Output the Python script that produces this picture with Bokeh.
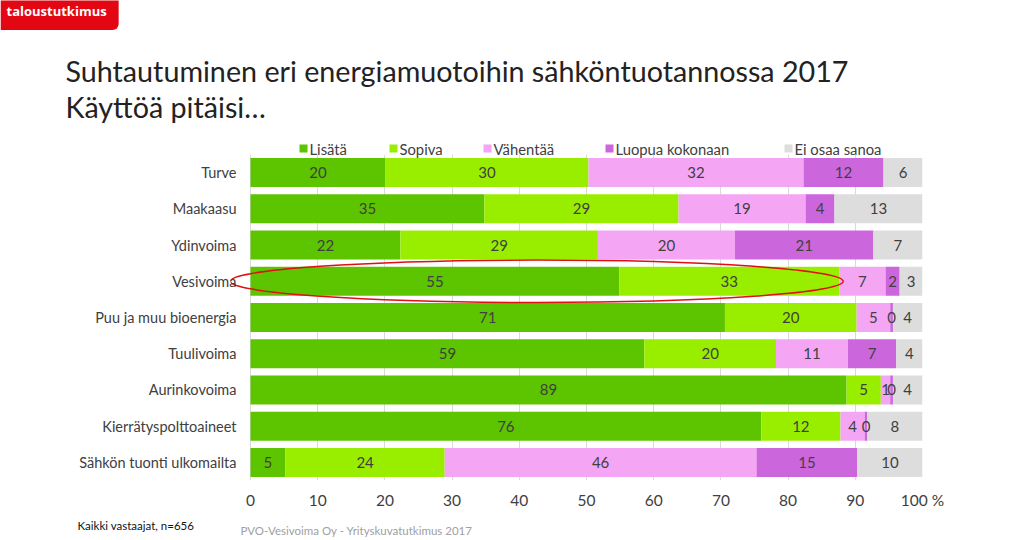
from bokeh.plotting import figure
from bokeh.layouts import column
from bokeh.models import (ColumnDataSource, FactorRange, Range1d, Label, FixedTicker)
from bokeh.core.properties import value
from bokeh.embed import file_html
from bokeh.resources import INLINE

categories = ["Turve", "Maakaasu", "Ydinvoima", "Vesivoima", "Puu ja muu bioenergia",
              "Tuulivoima", "Aurinkovoima", "Kierrätyspolttoaineet", "Sähkön tuonti ulkomailta"]
series = ["Lisätä", "Sopiva", "Vähentää", "Luopua kokonaan", "Ei osaa sanoa"]
lisata   = [20.1, 34.8, 22.3, 54.9, 70.6, 58.6, 88.7, 76.0, 5.2]
sopiva   = [30.2, 28.9, 29.4, 32.7, 19.6, 19.6, 5.1, 11.8, 23.7]
vahentaa = [32.0, 18.9, 20.4, 6.9, 5.0, 10.7, 1.4, 3.6, 46.4]
luopua   = [11.9, 4.3, 20.6, 2.1, 0.4, 7.2, 0.4, 0.4, 15.0]
ei_osaa  = [5.8, 13.1, 7.3, 3.4, 4.4, 3.9, 4.4, 8.2, 9.7]
colors = ["#5DC400", "#99EE00", "#F4A6F4", "#CC66DD", "#DDDDDD"]
x_ticks = [0, 10, 20, 30, 40, 50, 60, 70, 80, 90, 100]
highlight = "Vesivoima"
title_lines = ["Suhtautuminen eri energiamuotoihin sähköntuotannossa 2017", "Käyttöä pitäisi…"]
note_left = "Kaikki vastaajat, n=656"
note_source = "PVO-Vesivoima Oy - Yrityskuvatutkimus 2017"
logo_text = "taloustutkimus"

FONT = "Lato"
W = 1020
TOP_H = 164
OVERLAP = 10          # header canvas reaches 10px under the chart canvas
BL, BR, BB = 230, W - 922, 34
FRAME_H = 326
BOT_H = 24
px_per = 6.72
x_start = -(250 - BL) / px_per
legend_x = [299, 389, 483, 605, 784]   # left edge of each legend swatch (header pixels)
legend_y = 148


def blank(h, **kw):
    f = figure(width=W, height=h, x_range=Range1d(0, W), y_range=Range1d(h, 0),
               output_backend="svg", toolbar_location=None, x_axis_location=None,
               y_axis_location=None, min_border=0, frame_align=False, **kw)
    f.outline_line_color = None
    f.grid.visible = False
    return f


# ---------- header: logo, title, legend ----------
top = blank(TOP_H, margin=(0, 0, -OVERLAP, 0))
top.add_layout(Label(x=0, y=13, text=logo_text, text_font="Open Sans", text_font_size="13px",
                     text_font_style="bold", text_color="white", text_baseline="middle",
                     background_fill_color="#E30613", padding=(6, 12, 5, 10),
                     border_radius=(0, 0, 6, 0)))
top.text(x=[65, 65], y=[70, 106], text=title_lines, text_font=value(FONT),
         text_font_size="28.7px", text_color="#222222", text_baseline="middle")

top.rect(x=[lx + 4 for lx in legend_x], y=[legend_y] * len(series), width=8, height=8,
         fill_color=colors, line_color=None)
top.text(x=[lx + 10 for lx in legend_x], y=[legend_y] * len(series), text=series,
         text_font=value(FONT), text_font_size="14.8px", text_color="#404040",
         text_baseline="middle")

# ---------- main chart ----------
p = figure(width=W, height=FRAME_H + BB, y_range=FactorRange(*categories[::-1]),
           x_range=Range1d(x_start, 100), output_backend="svg", toolbar_location=None,
           min_border_left=BL, min_border_right=BR, min_border_top=0,
           min_border_bottom=BB, frame_align=False)
p.outline_line_color = None
p.background_fill_alpha = 0
p.border_fill_alpha = 0

all_vals = [lisata, sopiva, vahentaa, luopua, ei_osaa]
left = [0.0] * len(categories)
lx_, ly_, lt_ = [], [], []
for vals, col in zip(all_vals, colors):
    right = [a + b for a, b in zip(left, vals)]
    src = ColumnDataSource(dict(y=categories, left=left, right=right))
    p.hbar(y="y", left="left", right="right", height=0.8, source=src,
           fill_color=col, line_color=None)
    for c, a, v in zip(categories, left, vals):
        lx_.append(a + v / 2)
        ly_.append(c)
        lt_.append(f"{v:.0f}")
    left = right

p.text(x=lx_, y=ly_, text=lt_, text_align="center", text_baseline="middle",
       text_font=value(FONT), text_font_size="15px", text_color="#404040")

p.ellipse(x=[42.6], y=[highlight], width=91.2, height=1.17, fill_color=None,
          line_color="#E01010", line_width=1.5)

ticker = FixedTicker(ticks=x_ticks)
p.xgrid.ticker = ticker
p.xgrid.grid_line_color = "#D9D9D9"
p.ygrid.grid_line_color = None

xa = p.xaxis[0]
xa.ticker = ticker
xa.major_label_overrides = {100: "100 %"}
xa.axis_line_color = None
xa.major_tick_line_color = None
xa.minor_tick_line_color = None
xa.major_label_text_font = FONT
xa.major_label_text_font_size = "15.5px"
xa.major_label_text_color = "#404040"
xa.major_label_standoff = 4

ya = p.yaxis[0]
ya.axis_line_color = None
ya.major_tick_line_color = None
ya.minor_tick_line_color = None
ya.major_label_text_font = FONT
ya.major_label_text_font_size = "14.5px"
ya.major_label_text_color = "#404040"
ya.major_label_standoff = -12

# ---------- footer ----------
bot = blank(BOT_H)
bot.text(x=[77], y=[11], text=[note_left], text_font=value(FONT), text_font_size="11.5px",
         text_color="#111111", text_baseline="middle")
bot.text(x=[240], y=[16], text=[note_source], text_font=value(FONT), text_font_size="11.5px",
         text_color="#A0A0A0", text_baseline="middle")

layout = column(top, p, bot, spacing=0)
open("out.html", "w").write(file_html(layout, INLINE))
